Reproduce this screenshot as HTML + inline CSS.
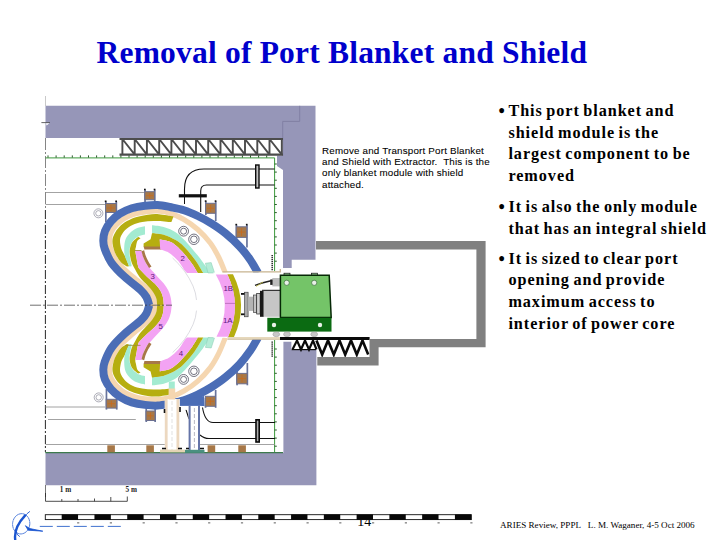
<!DOCTYPE html>
<html><head><meta charset="utf-8"><title>Removal of Port Blanket and Shield</title>
<style>
html,body{margin:0;padding:0;background:#fff;}
body{width:720px;height:540px;position:relative;overflow:hidden;font-family:"Liberation Serif",serif;}
.t{position:absolute;white-space:nowrap;margin:0;}
#title{left:96.5px;top:33.2px;font-size:31.5px;font-weight:bold;color:#0000cc;line-height:40px;letter-spacing:0.2px;}
.b{font-size:16.2px;font-weight:bold;color:#000;line-height:21.6px;left:508.4px;letter-spacing:0.95px;word-spacing:-1.5px;}
.bl{font-size:18px;font-weight:bold;color:#000;line-height:21.6px;left:498.4px;}
.b span{display:inline-block;}
#ann{left:322px;top:144.8px;font-family:"Liberation Sans",sans-serif;font-size:9.8px;line-height:11.25px;color:#000;letter-spacing:0.19px;-webkit-text-stroke:0.08px #000;}
#pg{left:357.2px;top:514.8px;font-size:14px;line-height:14px;color:#000;}
#foot{left:500px;top:519.6px;font-size:9.1px;line-height:11px;color:#000;}
</style></head><body>
<div id="title" class="t">Removal of Port Blanket and Shield</div>
<div id="pg" class="t">14</div>
<svg width="720" height="540" viewBox="0 0 720 540" style="position:absolute;left:0;top:0">
<path d="M45.5 105.8 H315.5 V259.7 H291.7 V268 H283 V170 L277 166 V155.5 H283 V138 H45.5 Z" fill="#9696b8"/>
<path d="M299.7 105.8 V121.4 H282.7 V156" fill="none" stroke="#7c7b9e" stroke-width="0.8"/>
<path d="M283.4 341.8 H291.6 V350 H316.4 V485.3 H45.5 V452.8 H283.4 Z" fill="#9696b8"/>
<path d="M45.5 96 V106" stroke="#bbb" stroke-width="0.8" fill="none"/><path d="M45.5 138 V210" stroke="#666" stroke-width="0.8" stroke-dasharray="12 2 2 2" fill="none"/><path d="M45.4 210 V452" stroke="#111" stroke-width="0.9" stroke-dasharray="9 2 2 2" fill="none"/><path d="M45.5 485 V497" stroke="#555" stroke-width="0.8" fill="none"/>
<path d="M41.4 122.6 H50" stroke="#555" stroke-width="0.9" fill="none"/><path d="M46 123.2 h3.5 l-3 2.4 Z" fill="#fff"/>
<g stroke="#4c4c4c" fill="none"><path d="M119.5 139 H283 M119.5 154.6 H283" stroke-width="2.2"/><path d="M122.4 139 V154.6 M134.7 139 V154.6 M146.9 139 V154.6 M159.2 139 V154.6 M171.4 139 V154.6 M183.7 139 V154.6 M196.0 139 V154.6 M208.2 139 V154.6 M220.5 139 V154.6 M232.8 139 V154.6 M245.0 139 V154.6 M257.3 139 V154.6 M269.5 139 V154.6 M281.8 139 V154.6 M122.4 139 L134.7 154.6 M134.7 139 L146.9 154.6 M146.9 139 L159.2 154.6 M159.2 139 L171.4 154.6 M171.4 139 L183.7 154.6 M183.7 139 L196.0 154.6 M196.0 139 L208.2 154.6 M208.2 139 L220.5 154.6 M220.5 139 L232.8 154.6 M232.8 139 L245.0 154.6 M245.0 139 L257.3 154.6 M257.3 139 L269.5 154.6 M269.5 139 L281.8 154.6 " stroke-width="1.9"/></g>
<path d="M45.5 157.9 H274.6 V271 M274.6 340 V452.5 H45.5" fill="none" stroke="#3c9a3c" stroke-width="1"/><path d="M48.0 157.6 v-2.2 M56.1 157.6 v-2.2 M64.2 157.6 v-2.2 M72.3 157.6 v-2.2 M80.4 157.6 v-2.2 M88.5 157.6 v-2.2 M96.6 157.6 v-2.2 M104.7 157.6 v-2.2 M112.8 157.6 v-2.2 M120.9 157.6 v-2.2 M129.0 157.6 v-2.2 M137.1 157.6 v-2.2 M145.2 157.6 v-2.2 M153.3 157.6 v-2.2 M161.4 157.6 v-2.2 M169.5 157.6 v-2.2 M177.6 157.6 v-2.2 M185.7 157.6 v-2.2 M193.8 157.6 v-2.2 M201.9 157.6 v-2.2 M210.0 157.6 v-2.2 M218.1 157.6 v-2.2 M226.2 157.6 v-2.2 M234.3 157.6 v-2.2 M242.4 157.6 v-2.2 M250.5 157.6 v-2.2 M258.6 157.6 v-2.2 M266.7 157.6 v-2.2 M274.6 164.0 h2.2 M274.6 172.1 h2.2 M274.6 180.2 h2.2 M274.6 188.3 h2.2 M274.6 196.4 h2.2 M274.6 204.5 h2.2 M274.6 212.6 h2.2 M274.6 220.7 h2.2 M274.6 228.8 h2.2 M274.6 236.9 h2.2 M274.6 245.0 h2.2 M274.6 253.1 h2.2 M274.6 261.2 h2.2 M274.6 349.0 h2.2 M274.6 357.1 h2.2 M274.6 365.2 h2.2 M274.6 373.3 h2.2 M274.6 381.4 h2.2 M274.6 389.5 h2.2 M274.6 397.6 h2.2 M274.6 405.7 h2.2 M274.6 413.8 h2.2 M274.6 421.9 h2.2 M274.6 430.0 h2.2 M274.6 438.1 h2.2 M274.6 446.2 h2.2 " stroke="#2a5a2a" stroke-width="1" fill="none"/><path d="M45.5 452.6 H283" stroke="#3c7a4c" stroke-width="1.3"/>
<path d="M272.2 255 V270.5 M272.2 341.5 V357" stroke="#333" stroke-width="1.6" stroke-dasharray="1.2 0.8" fill="none"/>
<path d="M45.5 192.5 H145 M45.5 204.5 H105 M45.5 407 H105 M48 419.5 H135.8 M45.5 444.5 H165 M200 444.5 H275" stroke="#8c8c8c" stroke-width="0.8" fill="none"/>
<path d="M184.5 196 V189 Q184.5 169 204 169 H274.6 M200.7 212 V191 Q200.7 185 206.5 185 H274.6" fill="none" stroke="#111" stroke-width="1.1"/>
<rect x="178.8" y="194.2" width="28" height="3.2" fill="#111"/>
<path d="M184.5 197 V204 " stroke="#111" stroke-width="1"/>
<rect x="255.7" y="165" width="3.3" height="23" fill="#c4c4c4" stroke="#0c0c0c" stroke-width="1.4"/>
<path d="M202.5 407.5 Q205 422.5 213 422.5 H275 M200 435 Q204 438.5 209 438.5 H275 M185 406.7 L189 419" fill="none" stroke="#111" stroke-width="1.1"/>
<rect x="256" y="419.8" width="3.2" height="22.2" fill="#aaa" stroke="#080808" stroke-width="1.6"/>
<rect x="105.0" y="201.5" width="1.7" height="20.5" fill="#68749c"/><rect x="115.5" y="201.5" width="1.7" height="12.5" fill="#68749c"/><rect x="104.8" y="200.5" width="1.7" height="1.6" fill="#111"/><rect x="115.3" y="200.5" width="1.7" height="1.6" fill="#111"/><rect x="105.6" y="203.5" width="10.6" height="9.0" fill="#a77848" stroke="#6c7090" stroke-width="1"/><path d="M107.1 208.0 h7.6 M110.9 205.0 v6.0" stroke="#c86a1c" stroke-width="0.8" fill="none"/>
<rect x="144.2" y="189.7" width="1.7" height="12.8" fill="#68749c"/><rect x="153.9" y="189.7" width="1.7" height="12.8" fill="#68749c"/><rect x="144.0" y="188.7" width="1.7" height="1.6" fill="#111"/><rect x="153.7" y="188.7" width="1.7" height="1.6" fill="#111"/><rect x="144.8" y="191.7" width="9.8" height="8.0" fill="#a77848" stroke="#6c7090" stroke-width="1"/><path d="M146.3 195.7 h6.8 M149.7 193.2 v5.0" stroke="#c86a1c" stroke-width="0.8" fill="none"/>
<rect x="205.0" y="201.3" width="1.7" height="13.7" fill="#68749c"/><rect x="214.9" y="201.3" width="1.7" height="19.7" fill="#68749c"/><rect x="204.8" y="200.3" width="1.7" height="1.6" fill="#111"/><rect x="214.7" y="200.3" width="1.7" height="1.6" fill="#111"/><rect x="205.6" y="203.3" width="10.0" height="10.0" fill="#a77848" stroke="#6c7090" stroke-width="1"/><path d="M207.1 208.3 h7.0 M210.6 204.8 v7.0" stroke="#c86a1c" stroke-width="0.8" fill="none"/>
<rect x="235.6" y="224.8" width="1.7" height="14.2" fill="#68749c"/><rect x="246.1" y="224.8" width="1.7" height="22.7" fill="#68749c"/><rect x="235.4" y="223.8" width="1.7" height="1.6" fill="#111"/><rect x="245.9" y="223.8" width="1.7" height="1.6" fill="#111"/><rect x="236.2" y="226.8" width="10.6" height="10.6" fill="#a77848" stroke="#6c7090" stroke-width="1"/><path d="M237.7 232.1 h7.6 M241.5 228.3 v7.6" stroke="#c86a1c" stroke-width="0.8" fill="none"/>
<circle cx="98.4" cy="213.3" r="4.5" fill="#fff" stroke="#778" stroke-width="0.6"/><circle cx="98.4" cy="213.3" r="2.7" fill="none" stroke="#778" stroke-width="0.6"/>
<circle cx="98.7" cy="397.4" r="4.5" fill="#fff" stroke="#778" stroke-width="0.6"/><circle cx="98.7" cy="397.4" r="2.7" fill="none" stroke="#778" stroke-width="0.6"/>
<rect x="105.6" y="389.0" width="1.7" height="20.6" fill="#68749c"/><rect x="115.9" y="397.0" width="1.7" height="12.6" fill="#68749c"/><rect x="106.2" y="399.3" width="10.4" height="8.8" fill="#a77848" stroke="#6c7090" stroke-width="1"/><path d="M107.7 403.7 h7.4 M111.4 400.8 v5.8" stroke="#c86a1c" stroke-width="0.8" fill="none"/>
<rect x="145.4" y="408.0" width="1.7" height="14.0" fill="#68749c"/><rect x="154.3" y="408.0" width="1.7" height="14.0" fill="#68749c"/><rect x="146.0" y="411.0" width="9.0" height="9.5" fill="#a77848" stroke="#6c7090" stroke-width="1"/><path d="M147.5 415.8 h6.0 M150.5 412.5 v6.5" stroke="#c86a1c" stroke-width="0.8" fill="none"/>
<rect x="204.7" y="398.0" width="1.7" height="9.8" fill="#68749c"/><rect x="214.8" y="390.0" width="1.7" height="17.8" fill="#68749c"/><rect x="205.3" y="396.3" width="10.2" height="10.0" fill="#a77848" stroke="#6c7090" stroke-width="1"/><path d="M206.8 401.3 h7.2 M210.4 397.8 v7.0" stroke="#c86a1c" stroke-width="0.8" fill="none"/>
<rect x="236.2" y="371.0" width="1.7" height="14.3" fill="#68749c"/><rect x="246.5" y="363.0" width="1.7" height="22.3" fill="#68749c"/><rect x="236.8" y="373.4" width="10.4" height="10.4" fill="#a77848" stroke="#6c7090" stroke-width="1"/><path d="M238.3 378.6 h7.4 M242.0 374.9 v7.4" stroke="#c86a1c" stroke-width="0.8" fill="none"/>
<rect x="107.3" y="445.3" width="7.6" height="7" fill="#a77848"/>
<rect x="146.3" y="445.3" width="7.6" height="7" fill="#a77848"/>
<rect x="207.6" y="445.3" width="7.6" height="7" fill="#a77848"/>
<rect x="238.3" y="445.3" width="7.6" height="7" fill="#a77848"/>
<g><path d="M154.8 305.3 C154.6 304.0 154.3 299.9 153.4 297.5 C152.5 295.1 152.6 294.1 149.2 290.6 C145.8 287.1 138.0 281.3 132.8 276.7 C127.6 272.1 121.7 267.6 118.0 263.0 C114.3 258.4 112.2 252.7 110.8 249.0 C109.4 245.3 109.4 243.5 109.4 240.8 C109.4 238.1 109.8 235.4 111.0 232.7 C112.2 230.0 114.2 227.2 116.5 224.8 C118.8 222.4 121.5 220.0 124.6 218.2 C127.7 216.3 131.6 214.8 135.3 213.7 C139.0 212.6 143.3 212.0 147.0 211.6 C150.7 211.2 153.7 210.7 157.5 211.0 C161.3 211.3 165.6 211.8 170.0 213.2 C174.4 214.6 179.3 216.8 183.9 219.5 C188.5 222.2 193.4 225.6 197.8 229.5 C202.2 233.4 206.8 238.4 210.3 243.0 C213.8 247.6 216.1 252.0 218.6 257.0 C221.1 262.0 224.2 270.3 225.3 273.0" fill="none" stroke="#f5d6b0" stroke-width="5.2" stroke-linecap="butt" stroke-linejoin="round" />
<path d="M149.2 305.3 C148.8 304.0 147.9 299.9 146.6 297.5 C145.3 295.1 144.9 294.1 141.2 290.6 C137.5 287.1 129.4 281.3 124.5 276.7 C119.5 272.1 114.8 267.4 111.5 262.8 C108.2 258.2 106.2 252.7 104.8 249.0 C103.4 245.3 103.3 243.8 103.3 240.8 C103.3 237.8 103.7 234.2 105.0 231.0 C106.3 227.8 108.5 224.3 111.0 221.4 C113.5 218.5 116.5 215.9 120.0 213.7 C123.5 211.5 127.6 209.5 131.8 208.2 C136.0 206.9 140.7 206.2 145.0 205.7 C149.3 205.2 153.3 204.8 157.5 205.0 C161.7 205.2 165.6 206.1 170.0 207.0 C174.4 207.9 179.3 208.7 183.9 210.2 C188.5 211.7 193.2 213.8 197.8 216.0 C202.4 218.2 207.1 220.7 211.7 223.6 C216.3 226.5 221.0 229.6 225.6 233.4 C230.2 237.2 235.3 241.8 239.4 246.2 C243.5 250.5 246.9 255.0 250.0 259.5 C253.1 264.0 256.7 270.8 258.0 273.0" fill="none" stroke="#4b6db6" stroke-width="8.0" stroke-linecap="butt" stroke-linejoin="round" />
<path d="M173.5 216.5 C171.1 216.1 163.2 214.5 158.9 214.2 C154.6 213.9 151.5 214.2 147.8 214.7 C144.1 215.2 140.2 215.9 136.7 217.0 C133.2 218.1 129.9 219.4 127.0 221.1 C124.1 222.8 121.4 224.9 119.3 227.0 C117.2 229.1 115.6 231.6 114.4 233.9 C113.2 236.2 112.5 238.3 112.4 240.8 C112.3 243.3 113.0 246.5 113.7 249.0 C114.4 251.5 115.2 253.5 116.5 255.8 C117.8 258.1 119.7 261.0 121.4 262.8 C123.2 264.6 126.1 266.0 127.0 266.6 L129.0 266.2 C128.8 265.5 128.2 263.7 127.5 262.0 C126.8 260.3 125.9 258.0 124.9 255.8 C123.9 253.6 122.2 251.5 121.4 249.0 C120.6 246.5 120.0 243.1 120.0 240.8 C120.0 238.5 120.5 237.2 121.4 235.3 C122.3 233.5 123.7 231.4 125.5 229.7 C127.3 228.0 129.7 226.2 132.5 224.9 C135.3 223.6 138.7 222.7 142.2 222.1 C145.7 221.5 149.6 221.2 153.3 221.1 C157.0 221.0 161.4 221.2 164.4 221.4 C167.4 221.6 170.2 222.0 171.4 222.1 Z" fill="#b6ae10"/>
<path d="M145.0 226.2 C143.6 226.5 139.2 227.1 136.7 228.3 C134.1 229.5 131.6 231.3 129.7 233.2 C127.8 235.0 126.4 237.0 125.5 239.4 C124.6 241.8 124.3 245.0 124.2 247.8 C124.1 250.6 124.2 253.3 124.9 256.1 C125.6 258.9 127.5 262.7 128.3 264.4 C129.1 266.1 129.3 266.1 129.5 266.5 L131.6 266.3 C131.6 266.0 131.7 266.1 131.4 264.4 C131.1 262.7 130.0 258.8 129.7 256.1 C129.4 253.5 129.2 250.9 129.7 248.5 C130.2 246.1 131.1 243.5 132.5 241.5 C133.9 239.5 135.9 237.8 138.0 236.7 C140.1 235.5 143.8 234.9 145.0 234.6 Z" fill="#a3ebd1"/>
<path d="M152.0 225.3 C154.1 225.6 160.5 226.0 164.4 227.2 C168.3 228.3 172.3 230.1 175.6 232.2 C178.8 234.3 180.2 235.7 183.9 239.6 C187.6 243.5 194.1 251.1 197.8 255.6 C201.5 260.1 203.9 263.8 206.0 266.7 C208.1 269.6 209.6 271.9 210.3 273.0 L203.3 273.0 C201.9 270.8 198.2 264.1 195.0 259.7 C191.8 255.3 187.1 249.8 183.9 246.5 C180.7 243.2 178.8 242.0 175.6 240.1 C172.3 238.2 168.3 236.2 164.4 235.0 C160.5 233.8 154.1 233.5 152.0 233.2 Z" fill="#a3ebd1"/>
<path d="M205.4 263.2 L211.2 262.6 L214.6 273 L208 273 Z" fill="#b4ecd6" stroke="#86c8b0" stroke-width="0.5"/>
<path d="M152.0 233.2 C154.1 233.5 160.5 233.8 164.4 235.0 C168.3 236.2 172.3 238.2 175.6 240.1 C178.8 242.0 180.7 243.2 183.9 246.5 C187.1 249.8 191.8 255.3 195.0 259.7 C198.2 264.1 201.9 270.8 203.3 273.0 L197.8 273.0 C196.9 271.5 194.5 267.1 192.2 263.9 C189.9 260.6 186.5 256.5 183.9 253.5 C181.3 250.5 178.8 248.0 176.5 246.0 C174.2 244.0 172.8 242.8 170.0 241.7 C167.2 240.6 161.3 239.6 159.6 239.2 Z" fill="#b6ae10"/>
<path d="M143.6 243.4 L150.6 239.2 L152 233.2 L164.4 235 L159.8 239.4 L160.4 247.2 L143.6 247.2 Z" fill="#b6ae10"/>
<path d="M143.8 246.6 L161.4 246.6 L161.7 249.5 L144.4 249.5 Z" fill="#a77848"/>
<path d="M159.6 239.2 C161.3 239.6 167.2 240.6 170.0 241.7 C172.8 242.8 174.2 244.0 176.5 246.0 C178.8 248.0 181.3 250.5 183.9 253.5 C186.5 256.5 189.9 260.6 192.2 263.9 C194.5 267.1 196.9 271.5 197.8 273.0 L187.0 273.0 C186.5 272.4 185.3 271.4 183.9 269.4 C182.5 267.4 180.6 263.8 178.3 261.1 C176.0 258.5 172.2 255.2 170.0 253.5 C167.8 251.8 166.6 251.7 165.0 251.0 C163.4 250.3 161.0 249.6 160.2 249.3 Z" fill="#f3a3f3"/>
<path d="M138.5 237.0 C138.2 237.2 137.8 237.0 136.7 238.0 C135.6 239.0 133.0 240.9 131.8 243.0 C130.6 245.1 129.9 248.1 129.7 250.5 C129.5 252.9 130.0 255.3 130.4 257.5 C130.8 259.7 131.2 261.5 132.0 263.5 C132.8 265.5 134.1 267.5 135.3 269.7 C136.5 271.9 137.7 274.4 139.4 276.7 C141.1 279.0 143.6 281.3 145.7 283.6 C147.8 285.9 150.3 288.3 152.0 290.6 C153.7 292.9 155.1 295.1 156.0 297.5 C156.9 299.9 157.0 304.0 157.2 305.3 L163.8 305.3 C163.6 304.0 163.6 299.9 163.0 297.5 C162.4 295.1 161.7 292.9 160.3 290.6 C158.9 288.3 156.9 285.9 154.7 283.6 C152.5 281.3 149.5 279.1 147.0 276.7 C144.5 274.3 141.0 270.8 139.5 269.0 C138.0 267.2 138.5 267.5 138.0 265.8 C137.5 264.1 137.1 261.4 136.7 258.9 C136.2 256.3 135.4 252.6 135.3 250.5 C135.2 248.4 135.7 248.0 136.0 246.4 C136.3 244.8 136.7 242.2 137.4 240.8 C138.2 239.4 140.0 238.6 140.5 238.2 Z" fill="#b6ae10"/>
<path d="M135.3 250.5 C135.5 251.9 136.2 256.3 136.7 258.9 C137.1 261.4 137.5 264.1 138.0 265.8 C138.5 267.5 138.0 267.2 139.5 269.0 C141.0 270.8 144.5 274.3 147.0 276.7 C149.5 279.1 152.5 281.3 154.7 283.6 C156.9 285.9 158.9 288.3 160.3 290.6 C161.7 292.9 162.4 295.1 163.0 297.5 C163.6 299.9 163.6 304.0 163.8 305.3 L171.7 305.3 C171.5 304.0 171.3 299.9 170.7 297.5 C170.1 295.1 169.5 292.9 168.3 290.6 C167.1 288.3 165.6 285.9 163.8 283.6 C161.9 281.3 159.8 279.2 157.5 276.7 C155.2 274.1 151.9 270.6 149.9 268.3 C147.9 266.0 146.8 264.9 145.7 262.8 C144.5 260.7 143.7 257.9 143.0 255.8 C142.3 253.8 141.8 251.4 141.5 250.5 Z" fill="#f3a3f3"/>
<path d="M142.8 250.8 C143.1 251.7 143.6 254.1 144.3 256.0 C145.0 257.9 146.0 260.1 147.0 262.0 C148.0 263.9 149.8 266.4 150.3 267.3" fill="none" stroke="#a77848" stroke-width="2.8" stroke-linecap="butt" stroke-linejoin="round" />
<path d="M172.6 258 Q186 270 193 286 Q196 293 196.5 300" fill="none" stroke="#c4c4cc" stroke-width="0.6"/>
<circle cx="183.6" cy="231.2" r="4.9" fill="#fff" stroke="#445" stroke-width="0.75"/><circle cx="183.6" cy="231.2" r="3.0" fill="none" stroke="#445" stroke-width="0.75"/>
<circle cx="193.9" cy="239.3" r="5.2" fill="#fff" stroke="#445" stroke-width="0.75"/><circle cx="193.9" cy="239.3" r="3.3" fill="none" stroke="#445" stroke-width="0.75"/></g>
<g transform="matrix(1 0 0 -1 0 610.6)"><path d="M154.8 305.3 C154.6 304.0 154.3 299.9 153.4 297.5 C152.5 295.1 152.6 294.1 149.2 290.6 C145.8 287.1 138.0 281.3 132.8 276.7 C127.6 272.1 121.7 267.6 118.0 263.0 C114.3 258.4 112.2 252.7 110.8 249.0 C109.4 245.3 109.4 243.5 109.4 240.8 C109.4 238.1 109.8 235.4 111.0 232.7 C112.2 230.0 114.2 227.2 116.5 224.8 C118.8 222.4 121.5 220.0 124.6 218.2 C127.7 216.3 131.6 214.8 135.3 213.7 C139.0 212.6 143.3 212.0 147.0 211.6 C150.7 211.2 153.7 210.7 157.5 211.0 C161.3 211.3 165.6 211.8 170.0 213.2 C174.4 214.6 179.3 216.8 183.9 219.5 C188.5 222.2 193.4 225.6 197.8 229.5 C202.2 233.4 206.8 238.4 210.3 243.0 C213.8 247.6 216.1 252.0 218.6 257.0 C221.1 262.0 224.2 270.3 225.3 273.0" fill="none" stroke="#f5d6b0" stroke-width="5.2" stroke-linecap="butt" stroke-linejoin="round" />
<path d="M149.2 305.3 C148.8 304.0 147.9 299.9 146.6 297.5 C145.3 295.1 144.9 294.1 141.2 290.6 C137.5 287.1 129.4 281.3 124.5 276.7 C119.5 272.1 114.8 267.4 111.5 262.8 C108.2 258.2 106.2 252.7 104.8 249.0 C103.4 245.3 103.3 243.8 103.3 240.8 C103.3 237.8 103.7 234.2 105.0 231.0 C106.3 227.8 108.5 224.3 111.0 221.4 C113.5 218.5 116.5 215.9 120.0 213.7 C123.5 211.5 127.6 209.5 131.8 208.2 C136.0 206.9 140.7 206.2 145.0 205.7 C149.3 205.2 153.3 204.8 157.5 205.0 C161.7 205.2 165.6 206.1 170.0 207.0 C174.4 207.9 179.3 208.7 183.9 210.2 C188.5 211.7 193.2 213.8 197.8 216.0 C202.4 218.2 207.1 220.7 211.7 223.6 C216.3 226.5 221.0 229.6 225.6 233.4 C230.2 237.2 235.3 241.8 239.4 246.2 C243.5 250.5 246.9 255.0 250.0 259.5 C253.1 264.0 256.7 270.8 258.0 273.0" fill="none" stroke="#4b6db6" stroke-width="8.0" stroke-linecap="butt" stroke-linejoin="round" />
<path d="M173.5 216.5 C171.1 216.1 163.2 214.5 158.9 214.2 C154.6 213.9 151.5 214.2 147.8 214.7 C144.1 215.2 140.2 215.9 136.7 217.0 C133.2 218.1 129.9 219.4 127.0 221.1 C124.1 222.8 121.4 224.9 119.3 227.0 C117.2 229.1 115.6 231.6 114.4 233.9 C113.2 236.2 112.5 238.3 112.4 240.8 C112.3 243.3 113.0 246.5 113.7 249.0 C114.4 251.5 115.2 253.5 116.5 255.8 C117.8 258.1 119.7 261.0 121.4 262.8 C123.2 264.6 126.1 266.0 127.0 266.6 L129.0 266.2 C128.8 265.5 128.2 263.7 127.5 262.0 C126.8 260.3 125.9 258.0 124.9 255.8 C123.9 253.6 122.2 251.5 121.4 249.0 C120.6 246.5 120.0 243.1 120.0 240.8 C120.0 238.5 120.5 237.2 121.4 235.3 C122.3 233.5 123.7 231.4 125.5 229.7 C127.3 228.0 129.7 226.2 132.5 224.9 C135.3 223.6 138.7 222.7 142.2 222.1 C145.7 221.5 149.6 221.2 153.3 221.1 C157.0 221.0 161.4 221.2 164.4 221.4 C167.4 221.6 170.2 222.0 171.4 222.1 Z" fill="#b6ae10"/>
<path d="M145.0 226.2 C143.6 226.5 139.2 227.1 136.7 228.3 C134.1 229.5 131.6 231.3 129.7 233.2 C127.8 235.0 126.4 237.0 125.5 239.4 C124.6 241.8 124.3 245.0 124.2 247.8 C124.1 250.6 124.2 253.3 124.9 256.1 C125.6 258.9 127.5 262.7 128.3 264.4 C129.1 266.1 129.3 266.1 129.5 266.5 L131.6 266.3 C131.6 266.0 131.7 266.1 131.4 264.4 C131.1 262.7 130.0 258.8 129.7 256.1 C129.4 253.5 129.2 250.9 129.7 248.5 C130.2 246.1 131.1 243.5 132.5 241.5 C133.9 239.5 135.9 237.8 138.0 236.7 C140.1 235.5 143.8 234.9 145.0 234.6 Z" fill="#a3ebd1"/>
<path d="M152.0 225.3 C154.1 225.6 160.5 226.0 164.4 227.2 C168.3 228.3 172.3 230.1 175.6 232.2 C178.8 234.3 180.2 235.7 183.9 239.6 C187.6 243.5 194.1 251.1 197.8 255.6 C201.5 260.1 203.9 263.8 206.0 266.7 C208.1 269.6 209.6 271.9 210.3 273.0 L203.3 273.0 C201.9 270.8 198.2 264.1 195.0 259.7 C191.8 255.3 187.1 249.8 183.9 246.5 C180.7 243.2 178.8 242.0 175.6 240.1 C172.3 238.2 168.3 236.2 164.4 235.0 C160.5 233.8 154.1 233.5 152.0 233.2 Z" fill="#a3ebd1"/>
<path d="M205.4 263.2 L211.2 262.6 L214.6 273 L208 273 Z" fill="#b4ecd6" stroke="#86c8b0" stroke-width="0.5"/>
<path d="M152.0 233.2 C154.1 233.5 160.5 233.8 164.4 235.0 C168.3 236.2 172.3 238.2 175.6 240.1 C178.8 242.0 180.7 243.2 183.9 246.5 C187.1 249.8 191.8 255.3 195.0 259.7 C198.2 264.1 201.9 270.8 203.3 273.0 L197.8 273.0 C196.9 271.5 194.5 267.1 192.2 263.9 C189.9 260.6 186.5 256.5 183.9 253.5 C181.3 250.5 178.8 248.0 176.5 246.0 C174.2 244.0 172.8 242.8 170.0 241.7 C167.2 240.6 161.3 239.6 159.6 239.2 Z" fill="#b6ae10"/>
<path d="M143.6 243.4 L150.6 239.2 L152 233.2 L164.4 235 L159.8 239.4 L160.4 247.2 L143.6 247.2 Z" fill="#b6ae10"/>
<path d="M143.8 246.6 L161.4 246.6 L161.7 249.5 L144.4 249.5 Z" fill="#a77848"/>
<path d="M159.6 239.2 C161.3 239.6 167.2 240.6 170.0 241.7 C172.8 242.8 174.2 244.0 176.5 246.0 C178.8 248.0 181.3 250.5 183.9 253.5 C186.5 256.5 189.9 260.6 192.2 263.9 C194.5 267.1 196.9 271.5 197.8 273.0 L187.0 273.0 C186.5 272.4 185.3 271.4 183.9 269.4 C182.5 267.4 180.6 263.8 178.3 261.1 C176.0 258.5 172.2 255.2 170.0 253.5 C167.8 251.8 166.6 251.7 165.0 251.0 C163.4 250.3 161.0 249.6 160.2 249.3 Z" fill="#f3a3f3"/>
<path d="M138.5 237.0 C138.2 237.2 137.8 237.0 136.7 238.0 C135.6 239.0 133.0 240.9 131.8 243.0 C130.6 245.1 129.9 248.1 129.7 250.5 C129.5 252.9 130.0 255.3 130.4 257.5 C130.8 259.7 131.2 261.5 132.0 263.5 C132.8 265.5 134.1 267.5 135.3 269.7 C136.5 271.9 137.7 274.4 139.4 276.7 C141.1 279.0 143.6 281.3 145.7 283.6 C147.8 285.9 150.3 288.3 152.0 290.6 C153.7 292.9 155.1 295.1 156.0 297.5 C156.9 299.9 157.0 304.0 157.2 305.3 L163.8 305.3 C163.6 304.0 163.6 299.9 163.0 297.5 C162.4 295.1 161.7 292.9 160.3 290.6 C158.9 288.3 156.9 285.9 154.7 283.6 C152.5 281.3 149.5 279.1 147.0 276.7 C144.5 274.3 141.0 270.8 139.5 269.0 C138.0 267.2 138.5 267.5 138.0 265.8 C137.5 264.1 137.1 261.4 136.7 258.9 C136.2 256.3 135.4 252.6 135.3 250.5 C135.2 248.4 135.7 248.0 136.0 246.4 C136.3 244.8 136.7 242.2 137.4 240.8 C138.2 239.4 140.0 238.6 140.5 238.2 Z" fill="#b6ae10"/>
<path d="M135.3 250.5 C135.5 251.9 136.2 256.3 136.7 258.9 C137.1 261.4 137.5 264.1 138.0 265.8 C138.5 267.5 138.0 267.2 139.5 269.0 C141.0 270.8 144.5 274.3 147.0 276.7 C149.5 279.1 152.5 281.3 154.7 283.6 C156.9 285.9 158.9 288.3 160.3 290.6 C161.7 292.9 162.4 295.1 163.0 297.5 C163.6 299.9 163.6 304.0 163.8 305.3 L171.7 305.3 C171.5 304.0 171.3 299.9 170.7 297.5 C170.1 295.1 169.5 292.9 168.3 290.6 C167.1 288.3 165.6 285.9 163.8 283.6 C161.9 281.3 159.8 279.2 157.5 276.7 C155.2 274.1 151.9 270.6 149.9 268.3 C147.9 266.0 146.8 264.9 145.7 262.8 C144.5 260.7 143.7 257.9 143.0 255.8 C142.3 253.8 141.8 251.4 141.5 250.5 Z" fill="#f3a3f3"/>
<path d="M142.8 250.8 C143.1 251.7 143.6 254.1 144.3 256.0 C145.0 257.9 146.0 260.1 147.0 262.0 C148.0 263.9 149.8 266.4 150.3 267.3" fill="none" stroke="#a77848" stroke-width="2.8" stroke-linecap="butt" stroke-linejoin="round" />
<path d="M172.6 258 Q186 270 193 286 Q196 293 196.5 300" fill="none" stroke="#c4c4cc" stroke-width="0.6"/>
<circle cx="183.6" cy="231.2" r="4.9" fill="#fff" stroke="#445" stroke-width="0.75"/><circle cx="183.6" cy="231.2" r="3.0" fill="none" stroke="#445" stroke-width="0.75"/>
<circle cx="193.9" cy="239.3" r="5.2" fill="#fff" stroke="#445" stroke-width="0.75"/><circle cx="193.9" cy="239.3" r="3.3" fill="none" stroke="#445" stroke-width="0.75"/></g>
<path d="M179.6 400 L204 396 L204.5 405.9 L179.6 405.9 Z" fill="#4b6db6"/><rect x="179.6" y="405.9" width="22" height="4" fill="#fff"/>
<rect x="164.8" y="399" width="15" height="51" fill="#fff"/>
<rect x="164.8" y="399" width="2.8" height="51" fill="#ecd8c0"/><rect x="176.5" y="399" width="2.8" height="51" fill="#ecd8c0"/>
<path d="M172 401 V450" stroke="#ccc" stroke-width="0.6" stroke-dasharray="4 2"/>
<rect x="168.8" y="381.5" width="6" height="7.5" fill="#a3ebd1"/><rect x="168.6" y="388.5" width="6.6" height="11" fill="#f5d6b0"/>
<rect x="188.6" y="406" width="11.4" height="44" fill="#fff"/>
<rect x="188.6" y="406" width="2" height="44" fill="#6474a8"/><rect x="198" y="406" width="2" height="44" fill="#6474a8"/>
<path d="M194.4 408 V450" stroke="#889" stroke-width="0.6" stroke-dasharray="4 2"/>
<rect x="160" y="449.6" width="25" height="2.8" fill="#e4d4b4"/><rect x="185" y="449.8" width="19.5" height="3" fill="#4a9080"/>
<path d="M162 448.5 h4 M178 448.5 h4 M186 448.5 h3 M200 448.5 h4 M164.5 409 v4 M180 407 v5" stroke="#111" stroke-width="1.6"/>
<rect x="213.5" y="272.4" width="69.5" height="65.4" fill="#fff"/>
<path d="M222.5 271.8 H280.3 V269" stroke="#c8b490" stroke-width="1.3" fill="none"/>
<path d="M227.5 338.3 H280" stroke="#e6d8bc" stroke-width="2.4" fill="none"/><path d="M227.5 339.4 H280" stroke="#c4b08c" stroke-width="0.6" fill="none"/>
<path d="M125.5 345.4 H140.5 M134.6 250.5 H141.5" stroke="#9a8a3a" stroke-width="0.8"/>
<path d="M30 305.2 H172" stroke="#333" stroke-width="0.7" stroke-dasharray="11 2 2 2" fill="none"/>
<path d="M227.3 274.3 L233 274.3 Q248.6 305.3 234 337 L228 337 Q242 305.3 227.3 274.3 Z" fill="#b6ae10"/>
<path d="M215.8 274.6 L227.5 274.6 Q242.3 305.3 228.2 336.8 L216.5 336.8 Q233.5 305.3 215.8 274.6 Z" fill="#f3a3f3"/>
<path d="M225 303.4 H235" stroke="#a050a0" stroke-width="0.6"/>
<rect x="241" y="293" width="7" height="1.8" fill="#111"/><rect x="241" y="313.4" width="7" height="1.8" fill="#111"/><rect x="244.6" y="292.2" width="3.5" height="24.6" fill="#aaa" stroke="#333" stroke-width="0.6"/><rect x="248.2" y="296.7" width="5.2" height="14.2" fill="#b4b4b4"/><rect x="253.3" y="295" width="3.5" height="17.6" fill="#c4c4c4" stroke="#333" stroke-width="0.6"/><rect x="256.7" y="293.6" width="3.4" height="20.4" fill="#d0d0d0" stroke="#222" stroke-width="0.7"/><rect x="260" y="290.8" width="3.8" height="26" fill="#181818"/><rect x="263.7" y="290" width="16.8" height="26.8" fill="#c6c6c6"/><path d="M262 290.3 H280.4" stroke="#111" stroke-width="1"/><path d="M255 285.3 L262 283 L272 280.5" stroke="#222" stroke-width="1.4" fill="none"/><path d="M256 286.5 L263 282" stroke="#c8c040" stroke-width="0.8"/><rect x="272.3" y="278" width="8.2" height="8.4" fill="#bdbdbd"/><rect x="270.2" y="279.5" width="2.4" height="5.4" fill="#222"/><rect x="284" y="273.2" width="6" height="3" fill="#9c9" stroke="#111" stroke-width="0.7"/><rect x="311.5" y="273.2" width="6" height="3" fill="#9c9" stroke="#111" stroke-width="0.7"/><path d="M280.4 275.3 H329.2 L331.2 317.6 H280.4 Z" fill="#74c468" stroke="#062806" stroke-width="1.5"/><circle cx="286.7" cy="282.8" r="2.6" fill="#e8f0e8" stroke="#2a5a2a" stroke-width="0.6"/><circle cx="314.2" cy="282.8" r="2.6" fill="#e8f0e8" stroke="#2a5a2a" stroke-width="0.6"/><rect x="267.3" y="317.8" width="64.2" height="13.8" fill="#0b6b12"/><circle cx="274" cy="325" r="2.2" fill="#e8f0e8"/><circle cx="320" cy="325" r="2.2" fill="#e8f0e8"/><ellipse cx="276.3" cy="334.3" rx="3.4" ry="2.4" fill="#c8c8c8" stroke="#999" stroke-width="0.5"/><ellipse cx="287.0" cy="334.3" rx="3.4" ry="2.4" fill="#c8c8c8" stroke="#999" stroke-width="0.5"/><ellipse cx="314.2" cy="334.3" rx="3.4" ry="2.4" fill="#c8c8c8" stroke="#999" stroke-width="0.5"/>
<rect x="291.6" y="340" width="24.2" height="10" fill="#fff"/><rect x="280" y="337" width="89.6" height="3" fill="#0a0a0a"/><path d="M292.5 349.5 L297.0 340.5 L301.0 349.5 L305.0 340.5 L309.0 349.5 L313.0 340.5 L316.5 349.5 " fill="none" stroke="#0a0a0a" stroke-width="2.2" stroke-linejoin="miter"/><path d="M291.6 349.6 H316" stroke="#0a0a0a" stroke-width="1.2"/><path d="M316.5 340.5 L322.2 354.6 L328.0 340.5 L333.8 354.6 L339.5 340.5 L345.2 354.6 L351.0 340.5 L356.8 354.6 L362.5 340.5 L368.2 354.6 " fill="none" stroke="#0a0a0a" stroke-width="2.6" stroke-linejoin="miter"/>
<path d="M316 241 H485.6 V347.2 H378.6 V365.4 H317.3 V357 H369.5 V339 H476.4 V249.4 H316 Z" fill="#808080"/>
<g font-family="Liberation Sans, sans-serif" font-size="7.8" fill="#5c1880"><text x="180.5" y="261.0">2</text><text x="150.5" y="278.5">3</text><text x="158.5" y="328.5">5</text><text x="178.8" y="356.0">4</text><text x="223.5" y="290.8">1B</text><text x="223.0" y="322.8">1A</text></g>
<path d="M45.5 493 V501.3 H127.3 V496.5 M61.8 499 v2.3 M78 499 v2.3 M94.5 498.5 v2.8 M110.8 497 v4.3" fill="none" stroke="#222" stroke-width="0.8"/>
<g font-family="Liberation Serif, serif" font-size="7.2" font-weight="bold" fill="#222"><text x="59.8" y="491.8">1 m</text><text x="125.6" y="491.8">5 m</text></g>
<rect x="45.3" y="514.7" width="426" height="4.9" fill="#fff" stroke="#111" stroke-width="0.9"/><rect x="61.68" y="514.4" width="16.38" height="5.5" fill="#080808"/><rect x="94.45" y="514.4" width="16.38" height="5.5" fill="#080808"/><rect x="127.22" y="514.4" width="16.38" height="5.5" fill="#080808"/><rect x="159.99" y="514.4" width="16.38" height="5.5" fill="#080808"/><rect x="192.76" y="514.4" width="16.38" height="5.5" fill="#080808"/><rect x="225.53" y="514.4" width="16.38" height="5.5" fill="#080808"/><rect x="258.30" y="514.4" width="16.38" height="5.5" fill="#080808"/><rect x="291.07" y="514.4" width="16.38" height="5.5" fill="#080808"/><rect x="323.84" y="514.4" width="16.38" height="5.5" fill="#080808"/><rect x="356.61" y="514.4" width="16.38" height="5.5" fill="#080808"/><rect x="389.38" y="514.4" width="16.38" height="5.5" fill="#080808"/><rect x="422.15" y="514.4" width="16.38" height="5.5" fill="#080808"/><rect x="454.92" y="514.4" width="16.38" height="5.5" fill="#080808"/><rect x="77.1" y="522" width="2.2" height="1.6" fill="#999"/><rect x="109.8" y="522" width="2.2" height="1.6" fill="#999"/><rect x="142.6" y="522" width="2.2" height="1.6" fill="#999"/><rect x="175.4" y="522" width="2.2" height="1.6" fill="#999"/><rect x="208.1" y="522" width="2.2" height="1.6" fill="#999"/><rect x="240.9" y="522" width="2.2" height="1.6" fill="#999"/><rect x="273.7" y="522" width="2.2" height="1.6" fill="#999"/><rect x="306.5" y="522" width="2.2" height="1.6" fill="#999"/><rect x="339.2" y="522" width="2.2" height="1.6" fill="#999"/><rect x="372.0" y="522" width="2.2" height="1.6" fill="#999"/><rect x="404.8" y="522" width="2.2" height="1.6" fill="#999"/><rect x="437.5" y="522" width="2.2" height="1.6" fill="#999"/><rect x="470.3" y="522" width="2.2" height="1.6" fill="#999"/>
<g fill="none" stroke="#1b55d0" stroke-linecap="round"><ellipse cx="21.2" cy="523.8" rx="8.6" ry="10.2" stroke-width="0.7" stroke-dasharray="3 1" transform="rotate(8 21.2 523.8)"/><path d="M29.6 511.6 Q27 513.5 24.6 516.2" stroke-width="0.9"/><path d="M25 515.6 C19 522 14 530 15.2 539.5" stroke-width="2.4"/><path d="M16.2 531.5 Q16 534.5 19.5 536.5" stroke-width="0.9"/><path d="M25.6 526 L28.2 530.2 L42.8 531.2 L30 528.6 Z" fill="#1b55d0" stroke-width="0.8" stroke-linejoin="round"/><path d="M39.8 526.4 H122" stroke-width="0.9" stroke-dasharray="13 4" stroke="#2a62c8" stroke-linecap="butt"/></g>
</svg>
<div id="ann" class="t">Remove and Transport Port Blanket<br>and Shield with Extractor.&nbsp; This is the<br>only blanket module with shield<br>attached.</div>
<div class="t bl" style="top:101.2px">&bull;</div><div class="t b" style="top:101.2px">This port blanket and<br>shield module is the<br>largest component to be<br>removed</div>
<div class="t bl" style="top:197.3px">&bull;</div><div class="t b" style="top:197.3px">It is also the only module<br>that has an integral shield</div>
<div class="t bl" style="top:248.9px">&bull;</div><div class="t b" style="top:248.9px">It is sized to clear port<br>opening and provide<br>maximum access to<br>interior of power core</div>
<div id="foot" class="t">ARIES Review, PPPL&nbsp;&nbsp; L. M. Waganer, 4-5 Oct 2006</div>
</body></html>
